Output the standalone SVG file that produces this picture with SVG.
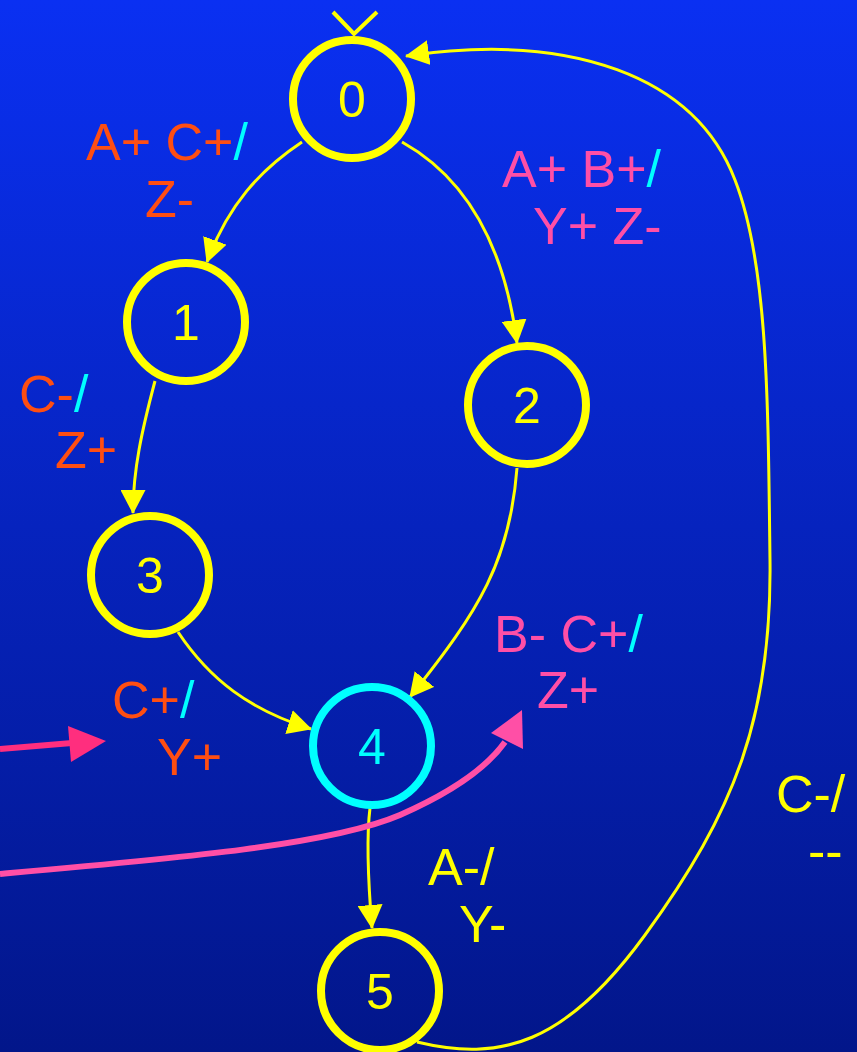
<svg xmlns="http://www.w3.org/2000/svg" width="857" height="1052" viewBox="0 0 857 1052">
<defs>
<linearGradient id="bg" x1="0" y1="0" x2="0" y2="1">
<stop offset="0" stop-color="#0A30F2"/>
<stop offset="1" stop-color="#02168A"/>
</linearGradient>
<marker id="ya" markerUnits="userSpaceOnUse" viewBox="0 0 24 25" markerWidth="24" markerHeight="25" refX="23" refY="12.5" orient="auto">
<path d="M0,0 L24,12.5 L0,25 z" fill="#FFFF00"/>
</marker>
<style>
.node{fill:none;stroke:#FFFF00;stroke-width:8}
.num{font-family:"Liberation Sans",Arial,sans-serif;font-size:50px;fill:#FFFF00;text-anchor:middle}
.lbl{font-family:"Liberation Sans",Arial,sans-serif;font-size:52px}
.or{fill:#FF4E12}
.pk{fill:#FF4FA6}
.ye{fill:#FFFF00}
.cy{fill:#00FFFF}
.edge{fill:none;stroke:#FFFF00;stroke-width:3;marker-end:url(#ya)}
</style>
</defs>
<rect width="857" height="1052" fill="url(#bg)"/>

<g id="connectors">
<path class="edge" d="M302,142 C260,170 228,205 207,262"/>
<path class="edge" d="M402,142 C470,180 505,250 517,343"/>
<path class="edge" d="M155,381 C142,430 133,470 133,513"/>
<path class="edge" d="M517,468 C510,560 480,610 410,697"/>
<path class="edge" d="M178,632 C210,680 250,710 311,729"/>
<path class="edge" d="M370,808 C366,840 368,880 372,928"/>
<path class="edge" d="M417,1042 C500,1062 565,1045 645,935 C735,812 772,715 770,560 C768,400 768,265 735,180 C695,75 570,32 406,56"/>
<path d="M333,12 L354,34 L377,12" fill="none" stroke="#FFFF00" stroke-width="4"/>
<path d="M0,749 L72,743" fill="none" stroke="#FF2E7E" stroke-width="6"/>
<polygon points="68,726 71,762 106,741" fill="#FF2E7E"/>
<path d="M0,874 C180,858 330,845 400,815 C450,793 485,770 505,742" fill="none" stroke="#FF4FA6" stroke-width="6"/>
<polygon points="491,733 523,749 522,710" fill="#FF4FA6"/>
</g>

<g id="node0"><circle class="node" cx="352" cy="99" r="59"/><text class="num" x="352" y="117">0</text></g>
<g id="node1"><circle class="node" cx="186" cy="322" r="59"/><text class="num" x="186" y="340">1</text></g>
<g id="node2"><circle class="node" cx="527" cy="405" r="59"/><text class="num" x="527" y="423">2</text></g>
<g id="node3"><circle class="node" cx="150" cy="575" r="59"/><text class="num" x="150" y="593">3</text></g>
<g id="node4"><circle class="node" cx="372" cy="746" r="59" style="stroke:#00FFFF"/><text class="num" x="372" y="764" style="fill:#00FFFF">4</text></g>
<g id="node5"><circle class="node" cx="380" cy="991" r="59"/><text class="num" x="380" y="1009">5</text></g>

<g id="labels">
<text class="lbl or" x="86" y="160">A+ C+<tspan class="cy">/</tspan></text>
<text class="lbl or" x="145" y="217">Z-</text>
<text class="lbl pk" x="502" y="187">A+ B+<tspan class="cy">/</tspan></text>
<text class="lbl pk" x="533" y="244">Y+ Z-</text>
<text class="lbl or" x="19" y="412">C-<tspan class="cy">/</tspan></text>
<text class="lbl or" x="55" y="468">Z+</text>
<text class="lbl or" x="112" y="718">C+<tspan class="cy">/</tspan></text>
<text class="lbl or" x="157" y="775">Y+</text>
<text class="lbl pk" x="494" y="652">B- C+<tspan class="cy">/</tspan></text>
<text class="lbl pk" x="537" y="708">Z+</text>
<text class="lbl ye" x="428" y="885">A-/</text>
<text class="lbl ye" x="459" y="942">Y-</text>
<text class="lbl ye" x="776" y="812">C-/</text>
<text class="lbl ye" x="808" y="869">--</text>
</g>
</svg>
